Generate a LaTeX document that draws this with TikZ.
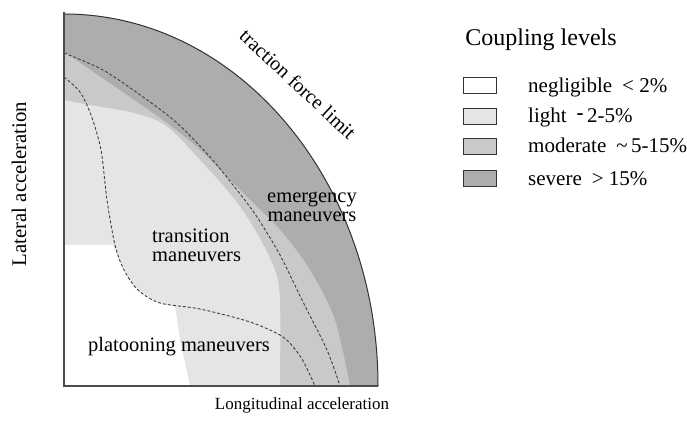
\documentclass[tikz,border=0pt]{standalone}
\usepackage{fontspec}
\setmainfont{Liberation Serif}
\usepackage{xcolor}
\definecolor{severec}{gray}{0.68}
\definecolor{moderatec}{gray}{0.79}
\definecolor{lightc}{gray}{0.90}

\begin{document}
\begin{tikzpicture}[x=1pt, y=1pt,
  regionlbl/.style={font=\fontsize{20.5}{19}\selectfont, inner sep=0pt},
  legbox/.style={draw=black!80, line width=0.8pt, minimum width=33pt, minimum height=16pt, inner sep=0pt},
  legtxt/.style={font=\fontsize{21}{22}\selectfont, anchor=base west, inner sep=0pt},
  boundary/.style={black!75, line width=0.9pt, dash pattern=on 3pt off 2pt},
  ]
\useasboundingbox (0,0) rectangle (687,441);

% coupling regions
\fill[severec] (64,55) -- (64,427) arc[start angle=90, end angle=0, x radius=314, y radius=372] -- cycle;
\fill[moderatec] (64,55) -- plot[smooth] coordinates {(64,389) (160,323) (200,291) (240,251) (280,211) (310,171) (335,121) (350,55)} -- cycle;
\fill[lightc] (64,55) -- plot[smooth] coordinates {(64,341) (95,335) (130,329) (165,316) (200,281) (235,241) (258,206) (275,171) (280,141) (280,55)} -- cycle;
\fill[white] (64,55) -- (64,196) -- plot[smooth] coordinates {(113,196) (124,171) (138,151) (160,138) (175,135)} -- (180,101) -- (190,55) -- cycle;

% maneuver boundaries
\draw[boundary] plot[smooth, tension=0.5] coordinates {(64,388) (103,371) (143,344) (177,318) (210,284) (237,251) (257,224) (280,186) (302,141) (327,91) (340,55)};
\draw[boundary] plot[smooth, tension=0.5] coordinates {(64,364) (80,349) (91,326) (101,291) (107,241) (115,196) (124,171) (138,151) (160,138) (200,132) (250,119) (283,104) (300,85) (310,66) (315,55)};
\draw[black!80, line width=1pt] (64,427) arc[start angle=90, end angle=0, x radius=314, y radius=372];

% axes
\draw[black!70, line width=1.4pt] (64,429) -- (64,55) -- (378,55);

\node[regionlbl, font=\fontsize{20}{20}\selectfont, rotate=-43] (limit) at (298,357) {traction force limit};
\node[regionlbl, align=center] (emerg) at (312,234) {emergency\\maneuvers};
\node[regionlbl, align=left, anchor=west] (trans) at (152,196) {transition\\maneuvers};
\node[regionlbl] (platoon) at (179,94) {platooning maneuvers};

\node[font=\fontsize{20.8}{21}\selectfont, inner sep=0pt, rotate=90] (latacc) at (19,257) {Lateral acceleration};
\node[font=\fontsize{17}{18}\selectfont, inner sep=0pt] (lonacc) at (302,36) {Longitudinal acceleration};

% legend
\node[font=\fontsize{24}{25}\selectfont, inner sep=0pt] (title) at (541,401) {Coupling levels};
\node[legbox, fill=white] (bneg) at (479.5,356) {};
\node[legbox, fill=lightc] (blight) at (479.5,325) {};
\node[legbox, fill=moderatec] (bmod) at (479.5,295) {};
\node[legbox, fill=severec] (bsev) at (479.5,263) {};
\node[legtxt] (tneg) at (528,348) {negligible\hspace{10pt}< 2\%};
\node[legtxt] (tlight) at (528,318) {light\hspace{10pt}\raisebox{3pt}{\textbf{-}}\,2-5\%};
\node[legtxt] (tmod) at (528,288) {moderate\hspace{10pt}\textasciitilde\,5-15\%};
\node[legtxt] (tsev) at (528,255) {severe\hspace{10pt}> 15\%};
\end{tikzpicture}
\end{document}
